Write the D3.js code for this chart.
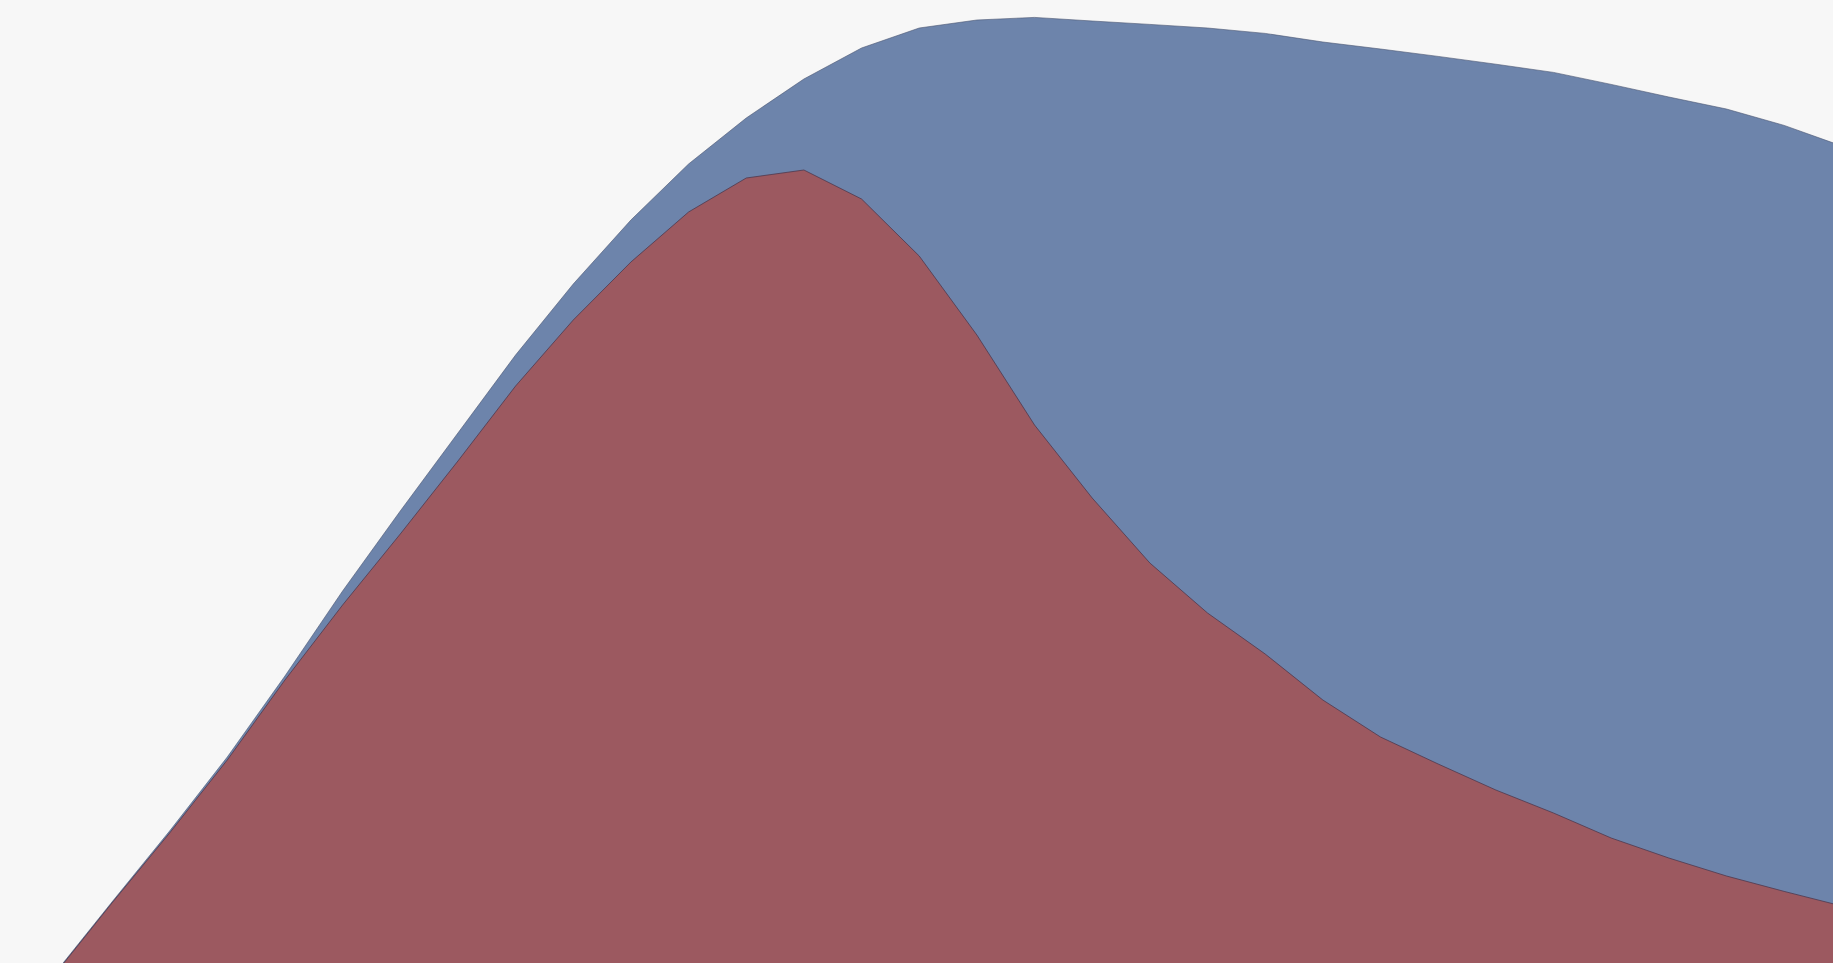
<!DOCTYPE html>
<html>
<head>
<meta charset="utf-8">
<script src="https://cdn.jsdelivr.net/npm/d3@7"></script>
<style>
  html, body { margin: 0; padding: 0; background: #f7f7f7; overflow: hidden; }
  svg { display: block; }
</style>
</head>
<body>
<svg id="chart" width="1833" height="963"></svg>
<script>
const categories = [1,2,3,4,5,6,7,8,9,10,11,12,13,14,15,16,17,18,19,20,21,22,23,24,25,26,27,28,29,30,31,32];

const seriesBlue = [1.30, 4.90, 8.45, 12.15, 16.20, 20.45, 24.45, 28.35, 32.25, 35.80,
  39.00, 41.80, 44.10, 46.05, 47.60, 48.60, 49.00, 49.13, 48.95, 48.78,
  48.60, 48.33, 47.90, 47.55, 47.18, 46.79, 46.38, 45.78, 45.15, 44.55,
  43.73, 42.70];

const seriesRed = [1.25, 4.85, 8.35, 12.00, 16.00, 19.75, 23.30, 26.95, 30.70, 34.00,
  36.90, 39.40, 41.10, 41.50, 40.05, 37.20, 33.25, 28.75, 25.10, 21.85,
  19.35, 17.30, 15.00, 13.15, 11.80, 10.50, 9.35, 8.10, 7.10, 6.20,
  5.43, 4.70];

const yDomain = [0, 50];

const svg = d3.select("#chart");

const x = d3.scalePoint()
  .domain(categories)
  .range([54.3, 1841.8]);

const y = d3.scaleLinear()
  .domain(yDomain)
  .range([1000, 0]);

const area = d3.area()
  .x((d, i) => x(categories[i]))
  .y0(y(0))
  .y1(d => y(d))
  .curve(d3.curveLinear);

svg.append("rect")
  .attr("width", 1833).attr("height", 963)
  .attr("fill", "#f7f7f7");

svg.append("path")
  .datum(seriesBlue)
  .attr("d", area)
  .attr("fill", "#6d84ab")
  .attr("stroke", "#4a5572")
  .attr("stroke-opacity", 0.6)
  .attr("stroke-width", 1);

svg.append("path")
  .datum(seriesRed)
  .attr("d", area)
  .attr("fill", "#9c5960")
  .attr("stroke", "#4f3a4f")
  .attr("stroke-opacity", 0.8)
  .attr("stroke-width", 1);
</script>
</body>
</html>
